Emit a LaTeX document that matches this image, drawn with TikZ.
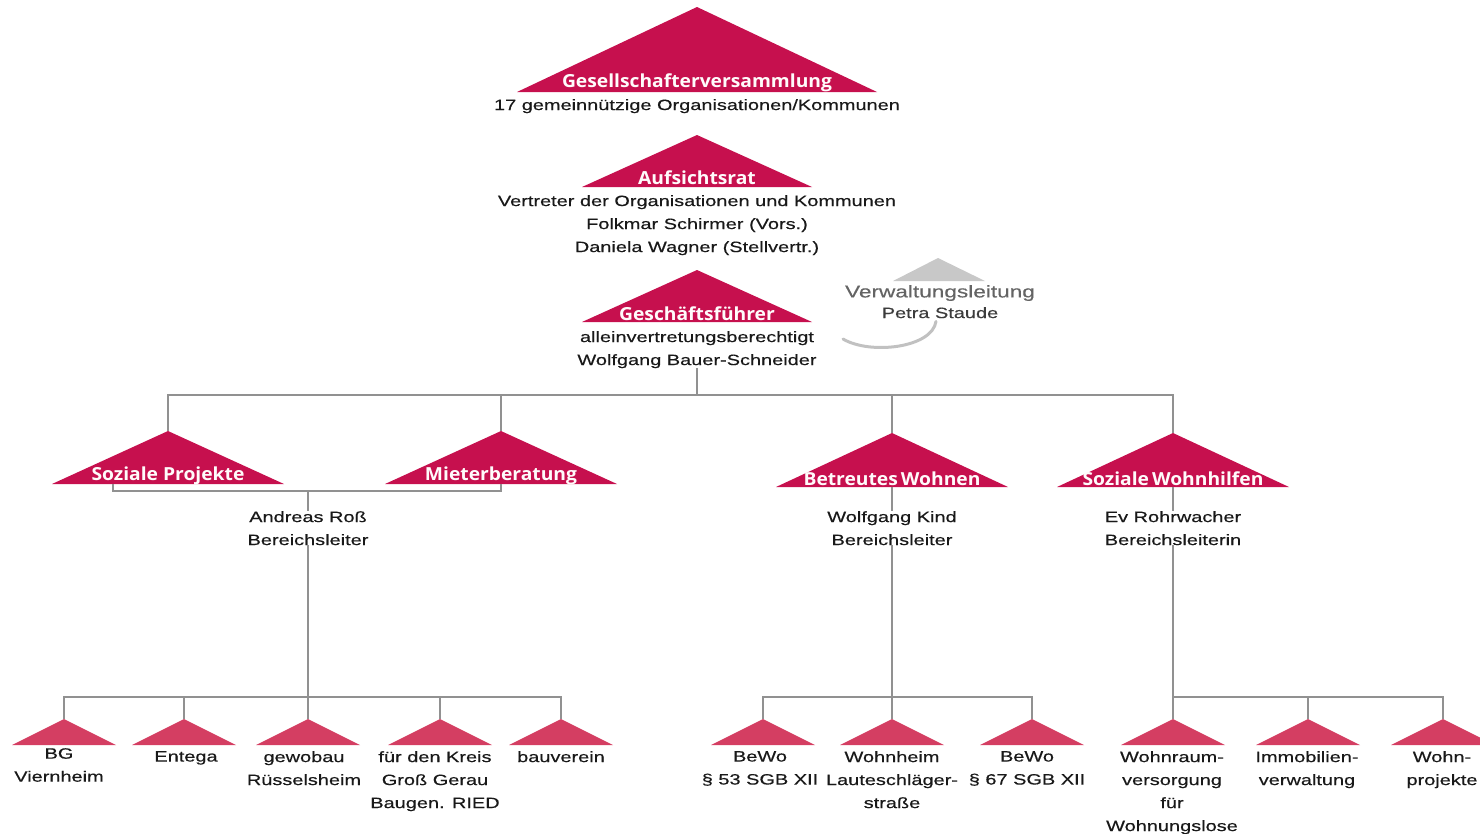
\documentclass[tikz,border=0pt]{standalone}
\usepackage{fontspec}
\setmainfont{Liberation Sans}
\newfontfamily\bodyfont[FakeStretch=1.33,FakeBold=0.4]{Liberation Sans}
\newfontfamily\labelfont[FakeStretch=1.07]{Open Sans}
\definecolor{crimson}{RGB}{198,16,78}
\definecolor{rose}{RGB}{212,62,98}
\definecolor{lineg}{RGB}{145,145,145}
\definecolor{textc}{RGB}{25,25,25}
\definecolor{vwgray}{RGB}{200,200,200}
\definecolor{vwtext}{RGB}{100,100,100}
\begin{document}
\begin{tikzpicture}[x=1pt,y=-1pt,
  conn/.style={draw=lineg,line width=2pt},
  bigtri/.style={fill=crimson},
  smalltri/.style={fill=rose},
  lbl/.style={text=white!94!pink,font=\labelfont\bfseries\fontsize{18}{18}\selectfont,inner sep=0pt},
  txt/.style={text=textc,font=\bodyfont\fontsize{15}{23}\selectfont,align=center,inner sep=0pt,anchor=north},
]
\useasboundingbox (0,0) rectangle (1480,833);

% ---- Top: Gesellschafterversammlung
\coordinate (gv) at (697,7);
\fill[bigtri] (gv) -- (877,92) -- (517,92) -- cycle;
\node[lbl] (gvl) at (697,83) {Gesellschafterversammlung};
\node[txt] (gvt) at (697,99) {17 gemeinnützige Organisationen/Kommunen};

% ---- Aufsichtsrat
\coordinate (ar) at (697,135);
\fill[bigtri] (ar) -- (812,187) -- (582,187) -- cycle;
\node[lbl] (arl) at (697,178) {Aufsichtsrat};
\node[txt] (art) at (697,195) {Vertreter der Organisationen und Kommunen\\Folkmar Schirmer (Vors.)\\Daniela Wagner (Stellvertr.)};

% ---- Geschaeftsfuehrer
\coordinate (gf) at (697,270);
\fill[bigtri] (gf) -- (812,322) -- (582,322) -- cycle;
\node[lbl] (gfl) at (697,314) {Geschäftsführer};
\node[txt] (gft) at (697,331) {alleinvertretungsberechtigt\\Wolfgang Bauer-Schneider};

% ---- Verwaltungsleitung
\coordinate (vw) at (938,258);
\fill[vwgray] (vw) -- (985,281) -- (893,281) -- cycle;
\node[text=vwtext,font=\bodyfont\fontsize{17}{17}\selectfont,inner sep=0pt] (vwl) at (940,293) {Verwaltungsleitung};
\node[txt,text=vwtext!60!black] (vwt) at (940,307) {Petra Staude};
\draw[draw=vwgray!90!gray,line width=3pt,line cap=round] (vwt.south) ++(-4,3) coordinate (arcS)
  .. controls (932,348) and (870,355) .. (843,339) coordinate (arcE);

% ---- Level 2 triangles
\coordinate (sp) at (168,431);
\coordinate (mb) at (501,431);
\coordinate (bw) at (892,433);
\coordinate (sw) at (1173,433);
\fill[bigtri] (sp) -- (284,484) -- (52,484) -- cycle;
\fill[bigtri] (mb) -- (617,484) -- (385,484) -- cycle;
\fill[bigtri] (bw) -- (1008,487) -- (776,487) -- cycle;
\fill[bigtri] (sw) -- (1289,487) -- (1057,487) -- cycle;
\node[lbl] (spl) at (168,476) {Soziale Projekte};
\node[lbl] (mbl) at (501,476) {Mieterberatung};
\node[lbl] (bwl) at (892,479) {Betreutes\,Wohnen};
\node[lbl] (swl) at (1173,479) {Soziale\,Wohnhilfen};

\coordinate (hub) at (697,395);
\draw[conn] (gft.south) -- (hub);
\draw[conn] (sp) -- (sp|-hub) -- (sw|-hub) -- (sw);
\draw[conn] (mb) -- (mb|-hub);
\draw[conn] (bw) -- (bw|-hub);

% ---- Bereichsleiter texts
\coordinate (brL) at (113,484);
\coordinate (brR) at (501,484);
\coordinate (brM) at (308,491);
\node[txt] (ross) at (308,511) {Andreas Roß\\Bereichsleiter};
\node[txt] (kind) at (892,511) {Wolfgang Kind\\Bereichsleiter};
\node[txt] (rohr) at (1173,511) {Ev Rohrwacher\\Bereichsleiterin};
\draw[conn] (brL) -- (brL|-brM) -- (brR|-brM) -- (brR);
\draw[conn] (brM) -- (ross.north);
\draw[conn] (892,487) -- (kind.north);
\draw[conn] (1173,487) -- (rohr.north);

% ---- Bottom level
\foreach \n/\x in {b1/64,b2/184,b3/308,b4/440,b5/561,c1/763,c2/892,c3/1032,d1/1173,d2/1308,d3/1443}{
  \coordinate (\n) at (\x,719);
  \fill[smalltri] (\n) -- ++(52,26) -- ++(-104,0) -- cycle;
}
\coordinate (hubA) at (308,697);
\coordinate (hubB) at (892,697);
\coordinate (hubC) at (1173,697);
\draw[conn] (ross.south) -- (b3);
\draw[conn] (b1) -- (b1|-hubA) -- (b5|-hubA) -- (b5);
\draw[conn] (b2) -- (b2|-hubA);
\draw[conn] (b4) -- (b4|-hubA);
\draw[conn] (kind.south) -- (c2);
\draw[conn] (c1) -- (c1|-hubB) -- (c3|-hubB) -- (c3);
\draw[conn] (rohr.south) -- (d1);
\draw[conn] (hubC) -- (d3|-hubC) -- (d3);
\draw[conn] (d2) -- (d2|-hubC);

\node[txt] (t1) at (59,748) {BG\\Viernheim};
\node[txt] (t2) at (186,751) {Entega};
\node[txt] (t3) at (304,751) {gewobau\\Rüsselsheim};
\node[txt] (t4) at (435,751) {für den Kreis\\Groß Gerau\\Baugen. RIED};
\node[txt] (t5) at (561,751) {bauverein};
\node[txt] (u1) at (760,751) {BeWo\\§ 53 SGB XII};
\node[txt] (u2) at (892,751) {Wohnheim\\Lauteschläger-\\straße};
\node[txt] (u3) at (1027,751) {BeWo\\§ 67 SGB XII};
\node[txt] (v1) at (1172,751) {Wohnraum-\\versorgung\\für\\Wohnungslose};
\node[txt] (v2) at (1307,751) {Immobilien-\\verwaltung};
\node[txt] (v3) at (1442,751) {Wohn-\\projekte};
\end{tikzpicture}
\end{document}
